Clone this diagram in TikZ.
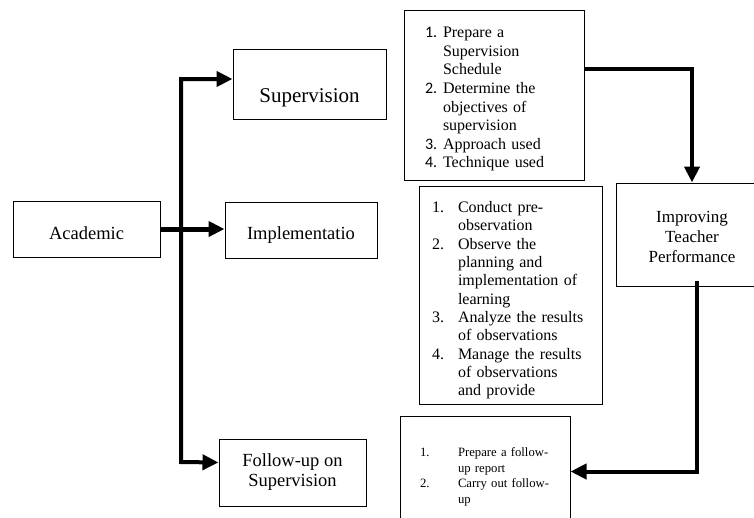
\documentclass[tikz,border=0pt]{standalone}
\usepackage{fontspec}
\setmainfont{Liberation Serif}
\newfontfamily\numfont{Carlito}
\usetikzlibrary{arrows.meta}

\begin{document}
\begin{tikzpicture}[x=1pt, y=-1pt, box/.style={rectangle, draw, line width=1pt, align=center, inner sep=0pt}, listbox/.style={rectangle, draw, line width=1pt, align=left, inner ysep=0pt}, flow/.style={line width=4pt, -{Triangle[length=16pt, width=15pt]}}]
	\useasboundingbox (0,0) rectangle (754,517);
	\clip (0,0) rectangle (754,517);

	% nodes
	\node[box, minimum width=147pt, minimum height=56pt, text height=25pt, text depth=4pt, font=\fontsize{18.5}{21}\selectfont] (acad) at (86.5,229) {Academic}; %
	\node[box, minimum width=153pt, minimum height=70pt, text height=42pt, text depth=5pt, font=\fontsize{21}{24}\selectfont] (sup) at (309.5,84) {Supervision}; %
	\node[box, minimum width=152pt, minimum height=56pt, text height=23pt, text depth=4pt, font=\fontsize{18.5}{21}\selectfont] (impl) at (301,230) {Implementatio}; %
	\node[box, minimum width=147pt, minimum height=67pt, font=\fontsize{18.5}{20}\selectfont] (follow) at (292.5,472.5) {Follow-up on\\Supervision}; %
	\node[box, minimum width=152pt, minimum height=103pt, font=\fontsize{17}{20}\selectfont] (improve) at (692,234.5) {%
		\begin{tabular}{@{}c@{}}
		\noalign{\vspace{8pt}}
		Improving\\
		Teacher\\
		Performance
		\end{tabular}}; %

	% lists
	\node[listbox, text width=138pt, inner xsep=21pt, minimum height=170pt, font=\fontsize{16}{18.6}\selectfont] (plan) at (494,95) {%
		\begin{tabular}{@{}p{18pt}@{}l@{}}
		\noalign{\vspace{8pt}}
		{\numfont 1.} & Prepare a\\
		 & Supervision\\
		 & Schedule\\
		{\numfont 2.} & Determine the\\
		 & objectives of\\
		 & supervision\\
		{\numfont 3.} & Approach used\\
		{\numfont 4.} & Technique used
		\end{tabular}}; %
	\node[listbox, text width=157pt, inner xsep=13pt, minimum height=218pt, font=\fontsize{16}{18.3}\selectfont] (observe) at (510.5,295) {%
		\begin{tabular}{@{}p{26pt}@{}l@{}}
		\noalign{\vspace{11pt}}
		1. & Conduct pre-\\
		 & observation\\
		2. & Observe the\\
		 & planning and\\
		 & implementation of\\
		 & learning\\
		3. & Analyze the results\\
		 & of observations\\
		4. & Manage the results\\
		 & of observations\\
		 & and provide
		\end{tabular}}; %
	\node[listbox, text width=130pt, inner xsep=20pt, minimum height=119pt, font=\fontsize{12.7}{15.6}\selectfont] (fulist) at (485,475.5) {%
		\begin{tabular}{@{}p{38pt}@{}l@{}}
		\noalign{\vspace{3pt}}
		1. & Prepare a follow-\\
		 & up report\\
		2. & Carry out follow-\\
		 & up
		\end{tabular}}; %

	% trunk
	\coordinate (trunkbot) at (181,462);

	% edges
	\draw[flow, line width=5pt] (acad.east) -- (acad.east -| impl.west);
	\draw[line width=4pt, {Triangle[length=16pt, width=15pt]}-{Triangle[length=16pt, width=15pt]}] ([yshift=5pt]sup.west) -| (trunkbot) -- ([yshift=10pt]follow.west);
	\draw[flow] ([yshift=26pt]plan.east) -| (improve.north);
	\draw[flow] ([xshift=5pt, yshift=6pt]improve.south) |- ([yshift=4pt]fulist.east);
\end{tikzpicture}
\end{document}
